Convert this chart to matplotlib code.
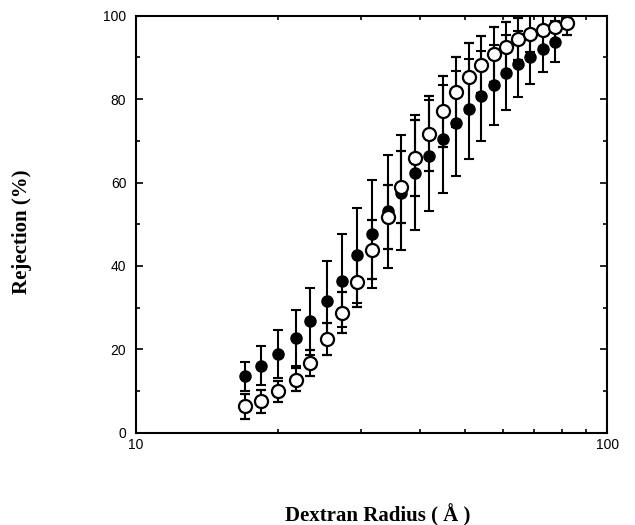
import numpy as np
import matplotlib
matplotlib.use("Agg")
import matplotlib.pyplot as plt
from matplotlib.ticker import LogLocator, FixedLocator, NullFormatter, FixedFormatter

# dextran radius (A), one value per column of points
radius = [17.0, 18.4, 20.05, 21.8, 23.4, 25.4, 27.4, 29.5, 31.75, 34.2, 36.5, 39.1,
          41.9, 44.85, 47.8, 50.8, 54.0, 57.4, 61.05, 64.6, 68.6, 73.0, 77.6, 82.1]

# filled circles (last column only has the open point)
rej_filled = [13.5, 16.1, 18.9, 22.7, 26.7, 31.7, 36.5, 42.5, 47.6, 53.1, 57.5, 62.3,
              66.4, 70.5, 74.2, 77.7, 80.7, 83.5, 86.3, 88.4, 90.2, 92.0, 93.8]
err_filled = [3.4, 4.6, 5.7, 6.8, 8.1, 9.4, 11.2, 11.5, 12.9, 13.6, 13.8, 13.8,
              13.3, 13.0, 12.6, 12.0, 10.8, 9.6, 9.0, 7.9, 6.5, 5.6, 5.0]

# open circles
rej_open = [6.3, 7.5, 9.9, 12.7, 16.7, 22.5, 28.8, 36.1, 43.9, 51.7, 58.9, 65.9,
            71.7, 77.1, 81.6, 85.2, 88.3, 90.8, 92.6, 94.4, 95.7, 96.5, 97.4, 98.2]
err_open = [3.0, 2.7, 2.6, 2.8, 3.2, 3.9, 5.0, 6.0, 7.0, 7.6, 8.6, 9.2,
            9.0, 8.5, 8.4, 8.2, 6.9, 6.6, 5.9, 5.0, 4.5, 4.0, 3.5, 2.8]

yticks = [0, 20, 40, 60, 80, 100]

fig = plt.figure(figsize=(6.35, 5.25), dpi=100)
ax = fig.add_axes([0.2142, 0.1758, 0.7422, 0.7942])

ax.errorbar(radius[:len(rej_filled)], rej_filled, yerr=err_filled, fmt='o',
            color='black', ms=8, mec='black', mfc='black', elinewidth=1.5,
            capsize=3.6, capthick=1.5, zorder=2)
ax.errorbar(radius, rej_open, yerr=err_open, fmt='o', color='black', ms=9.4,
            mec='black', mfc='white', mew=1.6, elinewidth=1.5,
            capsize=3.6, capthick=1.5, zorder=3)

ax.set_xscale('log')
ax.set_xlim(10, 100)
ax.set_ylim(0, 100)

ax.xaxis.set_major_locator(FixedLocator([10, 100]))
ax.xaxis.set_major_formatter(FixedFormatter(['10', '100']))
ax.xaxis.set_minor_locator(LogLocator(base=10, subs=np.arange(2, 10)))
ax.xaxis.set_minor_formatter(NullFormatter())
ax.set_yticks(yticks)
ax.set_yticks(np.arange(10, 100, 20), minor=True)

for side in ax.spines.values():
    side.set_linewidth(1.5)

ax.tick_params(which='both', direction='in', top=True, right=True, width=1.2)
ax.tick_params(which='major', length=5)
ax.tick_params(which='minor', length=3)
ax.tick_params(axis='x', which='major', pad=4, length=0)
ax.tick_params(axis='y', which='major', pad=7)
for lab in ax.get_xticklabels() + ax.get_yticklabels():
    lab.set_fontfamily('Liberation Sans')
    lab.set_fontsize(10)

fig.text(378 / 635, 1 - 515 / 525, 'Dextran Radius ( Å )', ha='center', va='center',
         fontfamily='Liberation Serif', fontweight='bold', fontsize=15)
fig.text(22 / 635, 1 - 232 / 525, 'Rejection (%)', ha='center', va='center',
         rotation=90, fontfamily='Liberation Serif', fontweight='bold', fontsize=15)

fig.savefig('out.png', dpi=100)
